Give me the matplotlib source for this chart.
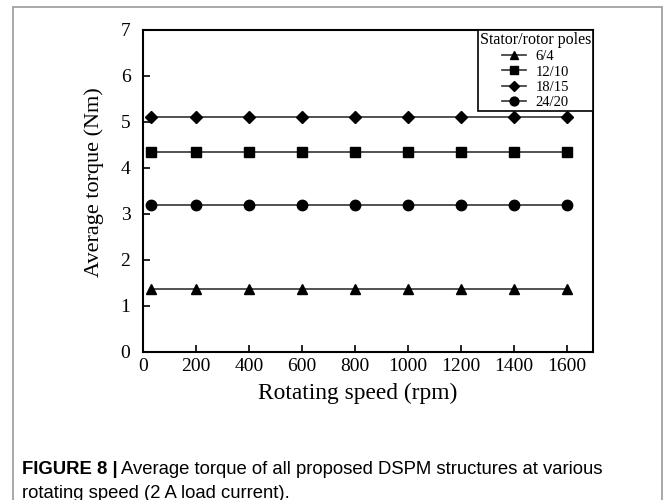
import numpy as np
import matplotlib.pyplot as plt
from matplotlib.patches import Rectangle

speed = [30, 200, 400, 600, 800, 1000, 1200, 1400, 1600]
labels = ["6/4", "12/10", "18/15", "24/20"]
markers = ["^", "s", "D", "o"]
torque = {
    "6/4": [1.36] * 9,
    "12/10": [4.34] * 9,
    "18/15": [5.10] * 9,
    "24/20": [3.19] * 9,
}

plt.rcParams["font.family"] = "Liberation Serif"

fig = plt.figure(figsize=(6.65, 5), dpi=100)
ax = fig.add_axes([0.215, 0.296, 0.677, 0.644])

for lab, mk in zip(labels, markers):
    ms = 6.5 if mk == "D" else 7.5
    ax.plot(speed, torque[lab], marker=mk, color="#333333", mfc="black", mec="black",
            ms=ms, lw=1.2, label=lab)

ax.set_xlim(0, 1700)
ax.set_ylim(0, 7)
ax.set_xticks(range(0, 1601, 200))
ax.set_yticks(range(0, 8))
ax.tick_params(direction="in", labelsize=14, length=5, width=1.2)
ax.tick_params(axis="y", pad=9)
ax.tick_params(axis="x", pad=4)
for s in ax.spines.values():
    s.set_linewidth(1.5)
ax.set_xlabel("Rotating speed (rpm)", fontsize=16.8)
ax.set_ylabel("Average torque (Nm)", fontsize=16)
ax.xaxis.set_label_coords(0.478, -0.095)
ax.yaxis.set_label_coords(-0.086, 0.528)

leg = ax.legend(title="Stator/rotor poles", loc="upper right", fontsize=10.5,
                title_fontsize=11.5, fancybox=False, framealpha=1, edgecolor="black",
                handlelength=1.6, handletextpad=0.7, labelspacing=0.15,
                borderaxespad=0, borderpad=0.12, markerscale=0.85)
leg.get_frame().set_linewidth(1.2)

# outer frame
fig.patches.append(Rectangle((13 / 665, -0.05), 649 / 665, 1.036, transform=fig.transFigure,
                             fill=False, edgecolor="#999999", lw=1.2))

cap_size = 13.3
t1 = fig.text(22 / 665, 0.062, "FIGURE 8 |", fontsize=cap_size, fontweight="bold",
              family="Liberation Sans", va="center")
fig.canvas.draw()
bb = t1.get_window_extent(fig.canvas.get_renderer())
fig.text(bb.x1 / 665 + 3 / 665, 0.062,
         "Average torque of all proposed DSPM structures at various",
         fontsize=cap_size, family="Liberation Sans", va="center")
fig.text(22 / 665, 0.014, "rotating speed (2 A load current).",
         fontsize=cap_size, family="Liberation Sans", va="center")

fig.savefig("out.png", dpi=100)
